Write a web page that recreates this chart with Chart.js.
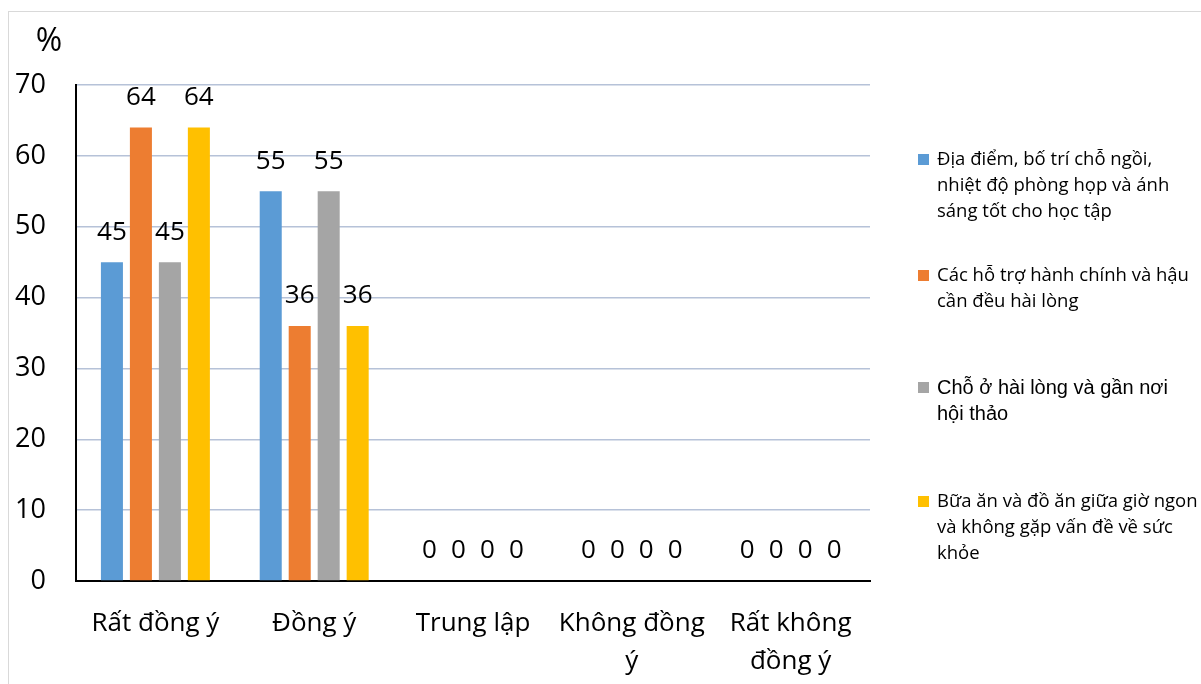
<!DOCTYPE html>
<html>
<head>
<meta charset="utf-8">
<script src="https://cdn.jsdelivr.net/npm/chart.js@4.4.0/dist/chart.umd.min.js"></script>
<style>
html, body { margin: 0; padding: 0; background: #fff; overflow: hidden; }
#wrap { position: relative; width: 1201px; height: 684px; }
#frame { position: absolute; left: 8px; top: 11px; width: 1200px; height: 680px; border: 1px solid #d9d9d9; }
#chart { position: absolute; left: 0; top: 0; }
</style>
</head>
<body>
<div id="wrap">
  <div id="frame"></div>
  <canvas id="chart" width="1201" height="684"></canvas>
</div>
<script>
// categories on the x axis (multi-line ones as arrays)
const categories = ['Rất đồng ý', 'Đồng ý', 'Trung lập', ['Không đồng', 'ý'], ['Rất không', 'đồng ý']];

// legend text, already broken into lines
const seriesLines = [
    ['Địa điểm, bố trí chỗ ngồi,', 'nhiệt độ phòng họp và ánh', 'sáng tốt cho học tập'],
    ['Các hỗ trợ hành chính và hậu', 'cần đều hài lòng'],
    ['Chỗ ở hài lòng và gần nơi', 'hội thảo'],
    ['Bữa ăn và đồ ăn giữa giờ ngon', 'và không gặp vấn đề về sức', 'khỏe']
];
const seriesColors = ['#5b9bd5', '#ed7d31', '#a5a5a5', '#ffc000'];

// percentages per category
const venueVals   = [45, 55, 0, 0, 0];
const supportVals = [64, 36, 0, 0, 0];
const lodgingVals = [45, 55, 0, 0, 0];
const mealVals    = [64, 36, 0, 0, 0];

const yMin = 0, yMax = 70, yStep = 10;
const unitLabel = '%';

const numFont = '"Open Sans", sans-serif';

// value labels above every bar
const barValues = {
    id: 'barValues',
    afterDatasetsDraw(chart) {
        const ctx = chart.ctx;
        ctx.save();
        ctx.font = '26px ' + numFont;
        ctx.fillStyle = '#000';
        ctx.textAlign = 'center';
        ctx.textBaseline = 'middle';
        chart.data.datasets.forEach((ds, i) => {
            chart.getDatasetMeta(i).data.forEach((bar, j) => {
                ctx.fillText(String(Math.round(ds.data[j])), bar.x, bar.y - 30);
            });
        });
        ctx.restore();
    }
};

// "%" unit above the y axis and the wrapped legend on the right
const sideText = {
    id: 'sideText',
    afterDraw(chart) {
        const ctx = chart.ctx;
        ctx.save();
        ctx.fillStyle = '#000';
        ctx.font = '32px ' + numFont;
        ctx.textAlign = 'center';
        ctx.textBaseline = 'middle';
        ctx.fillText(unitLabel, 49, 42);

        const tops = [160, 276, 388, 502];
        ctx.textAlign = 'left';
        chart.data.datasets.forEach((ds, i) => {
            const lines = seriesLines[i];
            ctx.fillStyle = ds.backgroundColor;
            ctx.fillRect(918, tops[i] - 6, 11, 11);
            ctx.fillStyle = '#000';
            ctx.font = i === 2 ? '20px "Liberation Sans", Arial, sans-serif' : '18.5px ' + numFont;
            lines.forEach((ln, k) => ctx.fillText(ln, 937, tops[i] + k * 26));
        });
        ctx.restore();
    }
};

const datasets = [venueVals, supportVals, lodgingVals, mealVals].map((vals, i) => ({
    label: seriesLines[i].join(' '),
    data: vals,
    backgroundColor: seriesColors[i],
    borderWidth: 0,
    categoryPercentage: 0.73,
    barPercentage: 0.76
}));

function draw() {
    new Chart(document.getElementById('chart'), {
        type: 'bar',
        data: { labels: categories, datasets: datasets },
        options: {
            responsive: false,
            animation: false,
            devicePixelRatio: 1,
            layout: { padding: { top: 85, right: 331, bottom: 0, left: 0 } },
            plugins: {
                legend: { display: false },
                tooltip: { enabled: false }
            },
            scales: {
                x: {
                    grid: { display: false },
                    border: { color: '#000', width: 2 },
                    ticks: {
                        color: '#000',
                        font: { family: numFont, size: 26, lineHeight: 1.45 },
                        padding: 16,
                        maxRotation: 0,
                        autoSkip: false
                    },
                    afterFit(scale) { scale.height = 103; }
                },
                y: {
                    min: yMin,
                    max: yMax,
                    grid: { color: '#b6c2d8', lineWidth: 1.5, drawTicks: false },
                    border: { color: '#000', width: 2 },
                    ticks: {
                        stepSize: yStep,
                        color: '#000',
                        font: { family: numFont, size: 27 },
                        padding: 30
                    },
                    afterFit(scale) { scale.width = 76; }
                }
            }
        },
        plugins: [barValues, sideText]
    });
}

Promise.all([
    document.fonts.load('26px "Open Sans"'),
    document.fonts.load('20px "Liberation Sans"')
]).then(draw, draw);
</script>
</body>
</html>
